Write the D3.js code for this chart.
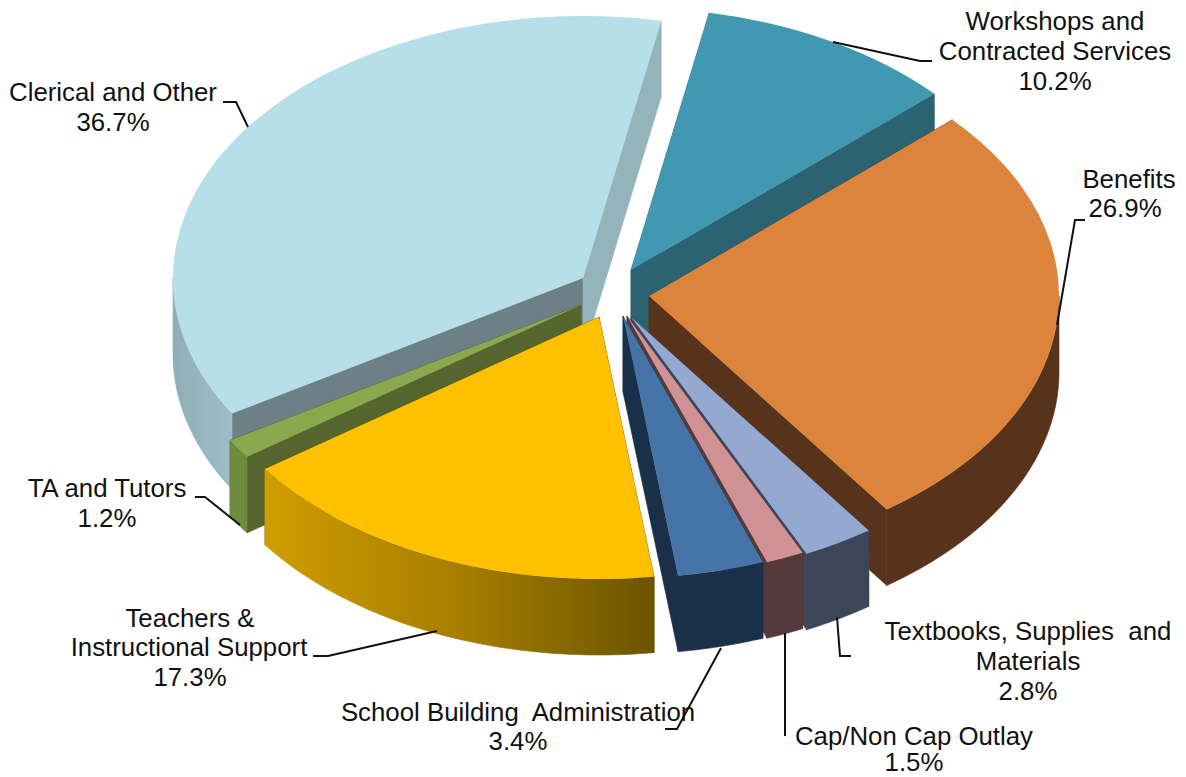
<!DOCTYPE html>
<html>
<head>
<meta charset="utf-8">
<script src="https://cdn.jsdelivr.net/npm/d3@7/dist/d3.min.js"></script>
<style>
html,body{margin:0;padding:0;background:#fff;overflow:hidden}
text{font-family:"Liberation Sans",Arial,sans-serif;font-size:25.8px;fill:#111;text-anchor:middle;white-space:pre}
</style>
</head>
<body>
<svg id="chart" width="1186" height="777"></svg>
<script>
// ---- data (pie order, clockwise from the first cut) ----
const categories = ["Workshops and Contracted Services","Benefits","Textbooks, Supplies  and Materials","Cap/Non Cap Outlay","School Building  Administration","Teachers & Instructional Support","TA and Tutors","Clerical and Other"];
const shares = [10.2,26.9,2.8,1.5,3.4,17.3,1.2,36.7];

// ---- style ----
const topColors  = ["#4099b0","#dd843c","#94a8d0","#d09294","#4674a8","#ffc000","#8aa84e","#b7dfe9"];
const startWallColors = ["#2b6373","#56331a","#3d4558","#553a3b","#1a3049","#6b5400","#54662e","#6c8085"];
const endWallColors = ["#2b6373","#56331a","#3d4558","#553a3b","#1a3049","#6b5400","#54662e","#94b4bc"];
const rimColors  = ["#2b6373","#56331a","#3d4558","#553a3b","#1a3049","url(#rimTeachers)","#6f8c3e","url(#rimClerical)"];

// ---- layout ----
const W = 1186, H = 777;
const rx = 410, ry = 262, depth = 76;
const startDeg = 11;
const apexX = [631,649,631,627,623,599,581,583];
const apexY = [270,296,317,316,316,317,305,278];
const paintOrder = [7,0,1,2,3,4,6,5];
const labelLines = [
  [["Workshops and",1055,30],["Contracted Services",1055,60],["10.2%",1055,90]],
  [["Benefits",1129,188],["26.9%",1125,217]],
  [["Textbooks, Supplies  and",1028,640],["Materials",1028,670],["2.8%",1028,700]],
  [["Cap/Non Cap Outlay",914,745],["1.5%",914,771]],
  [["School Building  Administration",518,721],["3.4%",518,750]],
  [["Teachers &",190,627],["Instructional Support",189,656],["17.3%",190,686]],
  [["TA and Tutors",107,497],["1.2%",107,527]],
  [["Clerical and Other",113,101],["36.7%",113,131]]
];
const leaders = [
  [[833,42],[920,61],[932,61]],
  [[1085,220],[1075,220],[1057,325]],
  [[837,617],[840,656],[851,656]],
  [[785,633],[785,736]],
  [[721,648],[677,729],[665,729]],
  [[437,631],[328,656],[313,656]],
  [[195,497],[205,497],[240,525]],
  [[223,102],[236,102],[248,127]]
];

const svg = d3.select("#chart");
const defs = svg.append("defs");
function hGrad(id, x1, x2, stops){
  const g = defs.append("linearGradient").attr("id",id).attr("gradientUnits","userSpaceOnUse")
    .attr("x1",x1).attr("x2",x2).attr("y1",0).attr("y2",0);
  stops.forEach(s=>g.append("stop").attr("offset",s[0]).attr("stop-color",s[1]));
}
hGrad("rimTeachers",263,655,[[0,"#cf9e00"],[0.5,"#a67e00"],[1,"#6b5400"]]);
hGrad("rimClerical",172,232,[[0,"#90aeb7"],[1,"#9dbdc7"]]);

const rad = Math.PI/180;
const pie = d3.pie().sort(null).startAngle(startDeg*rad).endAngle((startDeg+360)*rad);
const arcs = pie(shares);
const arcGen = d3.arc().innerRadius(0).outerRadius(rx);
// projection of (angle, radius, height) for a slice
const px = (i,a,r)=>apexX[i]+r*Math.sin(a);
const py = (i,a,r,z)=>apexY[i]-r*Math.cos(a)*(ry/rx)+z;
const pathLine = d3.line();

const g = svg.append("g");
paintOrder.forEach(i=>{
  const a0 = arcs[i].startAngle, a1 = arcs[i].endAngle;
  const slice = g.append("g").attr("class","slice").attr("data-name",categories[i]);
  const wall = (a,c)=>slice.append("path").attr("fill",c).attr("stroke",c).attr("stroke-width",0.6).attr("d",pathLine([
    [px(i,a,0),py(i,a,0,0)],[px(i,a,rx),py(i,a,rx,0)],
    [px(i,a,rx),py(i,a,rx,depth)],[px(i,a,0),py(i,a,0,depth)]])+"Z");
  wall(a0,startWallColors[i]);
  wall(a1,endWallColors[i]);
  // outer rim, front-facing part only
  const lo = Math.max(a0,Math.PI/2), hi = Math.min(a1,Math.PI*1.5);
  if(hi>lo){
    const n = 80;
    const ts = d3.range(n+1).map(k=>lo+(hi-lo)*k/n);
    const pts = ts.map(t=>[px(i,t,rx),py(i,t,rx,0)])
      .concat(ts.slice().reverse().map(t=>[px(i,t,rx),py(i,t,rx,depth)]));
    slice.append("path").attr("fill",rimColors[i]).attr("stroke",rimColors[i]).attr("stroke-width",0.6).attr("d",pathLine(pts)+"Z");
  }
  // top face
  slice.append("path").attr("fill",topColors[i])
    .attr("transform",`translate(${apexX[i]},${apexY[i]}) scale(1,${ry/rx})`)
    .attr("d",arcGen(arcs[i]));
});

svg.append("g").selectAll("path").data(leaders).join("path")
  .attr("fill","none").attr("stroke","#111").attr("stroke-width",2)
  .attr("d",d=>pathLine(d));

const lab = svg.append("g");
labelLines.forEach(lines=>lines.forEach(l=>{
  lab.append("text").attr("x",l[1]).attr("y",l[2]).text(l[0]);
}));
</script>
</body>
</html>
